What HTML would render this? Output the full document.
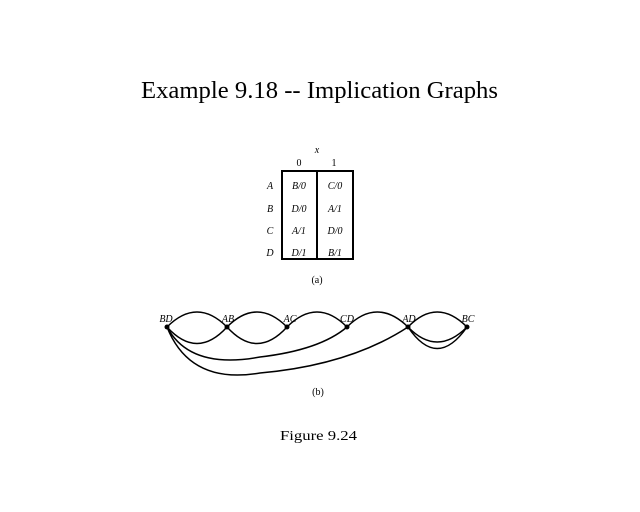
<html><body style="margin:0;background:#fff">
<svg width="640" height="512" xmlns="http://www.w3.org/2000/svg" font-family="Liberation Serif, serif">
<text x="141" y="98" font-size="24" textLength="357" lengthAdjust="spacingAndGlyphs">Example 9.18 -- Implication Graphs</text>
<g font-size="10" font-style="italic" text-anchor="middle">
<text x="317" y="153">x</text>
<text x="270" y="189">A</text><text x="270" y="212">B</text><text x="270" y="234">C</text><text x="270" y="256">D</text>
<text x="299" y="189">B/0</text><text x="335" y="189">C/0</text>
<text x="299" y="212">D/0</text><text x="335" y="212">A/1</text>
<text x="299" y="234">A/1</text><text x="335" y="234">D/0</text>
<text x="299" y="256">D/1</text><text x="335" y="256">B/1</text>
</g>
<g font-size="10" text-anchor="middle"><text x="299" y="166">0</text><text x="334" y="166">1</text>
<text x="317" y="283">(a)</text><text x="318" y="395">(b)</text></g>
<rect x="282" y="171" width="71" height="88" fill="none" stroke="#000" stroke-width="2"/>
<line x1="317" y1="171" x2="317" y2="259" stroke="#000" stroke-width="2"/>
<g fill="none" stroke="#000" stroke-width="1.5">
<path d="M167 327 Q197 297 227 327"/><path d="M227 327 Q257 297 287 327"/><path d="M287 327 Q317 297 347 327"/>
<path d="M347 327 Q377 297 408 327"/><path d="M408 327 Q437 297 467 327"/>
<path d="M167 327 Q197 360 227 327"/><path d="M227 327 Q257 360 287 327"/>
<path d="M167 327 Q190 370 260 357 Q320 350 347 327"/>
<path d="M167 327 Q190 385 260 373 Q350 365 408 327"/>
<path d="M408 327 Q437 357 467 327"/><path d="M408 327 Q437 370 467 327"/>
</g>
<g fill="#000"><circle cx="167" cy="327" r="2.5"/><circle cx="227" cy="327" r="2.5"/><circle cx="287" cy="327" r="2.5"/><circle cx="347" cy="327" r="2.5"/><circle cx="408" cy="327" r="2.5"/><circle cx="467" cy="327" r="2.5"/></g>
<g font-size="10" font-style="italic" text-anchor="middle">
<text x="166" y="322">BD</text><text x="228" y="322">AB</text><text x="290" y="322">AC</text><text x="347" y="322">CD</text><text x="409" y="322">AD</text><text x="468" y="322">BC</text>
</g>
<text x="280" y="440" font-size="14" textLength="77" lengthAdjust="spacingAndGlyphs">Figure 9.24</text>
</svg>
</body></html>
